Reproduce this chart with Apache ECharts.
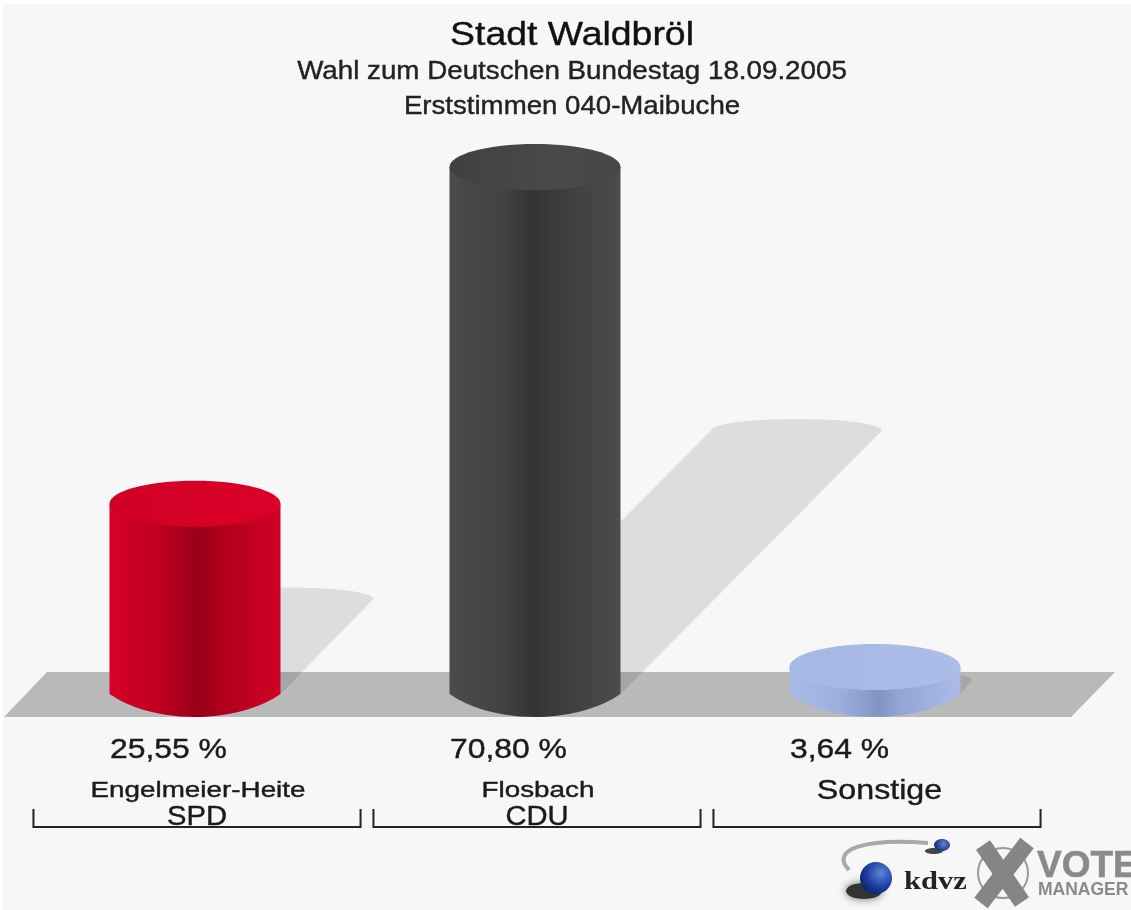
<!DOCTYPE html>
<html><head><meta charset="utf-8">
<style>html,body{margin:0;padding:0;background:#fff}#c{width:1131px;height:910px}</style>
<script src="https://cdn.jsdelivr.net/npm/echarts@6/dist/echarts.min.js"></script>
</head><body><div id="c"></div>
<script>
const titleText = 'Stadt Waldbröl';
const subtitleLines = ['Wahl zum Deutschen Bundestag 18.09.2005', 'Erststimmen 040-Maibuche'];
const candidates = ['Engelmeier-Heite', 'Flosbach', 'Sonstige'];
const parties = ['SPD', 'CDU', ''];
const percentLabels = ['25,55 %', '70,80 %', '3,64 %'];
const values = [25.55, 70.80, 3.64];
const sideStops = [
  [[0,'#d60028'],[0.3,'#bd0022'],[0.52,'#960017'],[0.62,'#ab001b'],[1,'#d20026']],
  [[0,'#4b4b4b'],[0.3,'#434343'],[0.5,'#333333'],[0.62,'#3c3c3c'],[1,'#4c4c4c']],
  [[0,'#a9bbe6'],[0.3,'#9cafdc'],[0.52,'#8194c4'],[0.65,'#93a6d4'],[1,'#aabce7']]
];
const capStops = [
  [[0,'#cf0026'],[1,'#dc0027']],
  [[0,'#404040'],[0.6,'#4a4a4a'],[1,'#474747']],
  [[0,'#a6b8e4'],[1,'#abbde8']]
];
const FONT = '"Liberation Sans", Arial, sans-serif';
const halfW = 85.5, ry = 23;
const grad = s => ({type:'linear',x:0,y:0,x2:1,y2:0,colorStops:s.map(([offset,color])=>({offset,color}))});

function shadowItem(params, api){
  const i = api.value(0), base = api.coord([i,0]), top = api.coord([i,api.value(1)]);
  const t = (base[1]-top[1])/2;
  const xl = base[0]-halfW, xr = base[0]+halfW, yb = base[1], ys = yb-t;
  return {type:'path', shape:{pathData:
    `M${xl} ${yb} L${xl+t-2} ${ys} A${halfW} ${ry/2} 0 0 1 ${xr+t-2} ${ys} L${xr} ${yb} Z`},
    style:{fill:'rgba(0,0,0,0.10)'}};
}
function cylItem(params, api){
  const i = api.value(0), base = api.coord([i,0]), top = api.coord([i,api.value(1)]);
  const xl = base[0]-halfW, xr = base[0]+halfW, yb = base[1], yt = top[1];
  return {type:'group', children:[
    {type:'path', shape:{pathData:
      `M${xl} ${yt} L${xr} ${yt} L${xr} ${yb} A110 62 0 0 1 ${xl} ${yb} Z`},
      style:{fill:grad(sideStops[i])}},
    {type:'ellipse', shape:{cx:base[0],cy:yt,rx:halfW,ry:ry}, style:{fill:grad(capStops[i])}}
  ]};
}
function labelItem(params, api){
  const i = api.value(0), base = api.coord([i,0]);
  const band = api.size([1,0])[0];
  const cx = base[0]+2, hw = band*0.481, yl = 827, yu = 809;
  const txt = (s,x,y,size,sx,align) => ({type:'text', x, y, scaleX:sx,
    style:{text:s, fill:'#1a1a1a', stroke:'#1a1a1a', lineWidth:0.4, font:`${size}px ${FONT}`, align:align||'center', verticalAlign:'middle'}});
  const kids = [
    txt(percentLabels[i], base[0]-85, 751, 27, 1.18, 'left'),
    {type:'polyline', shape:{points:[[cx-hw,yu],[cx-hw,yl],[cx+hw,yl],[cx+hw,yu]]},
      style:{stroke:'#222',fill:null,lineWidth:2}}
  ];
  if(parties[i]){
    kids.push(txt(candidates[i], base[0]+3, 791, 22, 1.265));
    kids.push(txt(parties[i], base[0]+2, 818, 27, 1.08));
  } else {
    kids.push(txt(candidates[i], base[0]+4.5, 791, 28, 1.15));
  }
  return {type:'group', children:kids};
}
const rows = values.map((v,i)=>[i,v]);
const head = (s,y,size,sx,c) => ({type:'text',z:2,x:572,y,scaleX:sx,
  style:{text:s,font:`${size}px ${FONT}`,fill:c,stroke:c,lineWidth:0.4,align:'center',verticalAlign:'middle'}});
const chart = echarts.init(document.getElementById('c'), null, {renderer:'canvas'});
chart.setOption({
  animation:false,
  backgroundColor:'#ffffff',
  grid:{left:25,width:1020,top:98.5,height:595.5},
  xAxis:{type:'category',data:candidates,show:false},
  yAxis:{type:'value',min:0,max:80,show:false},
  series:[
    {type:'custom',coordinateSystem:'cartesian2d',z:3,data:rows,renderItem:shadowItem,encode:{x:0,y:1},silent:true},
    {type:'custom',coordinateSystem:'cartesian2d',z:4,data:rows,renderItem:cylItem,encode:{x:0,y:1},silent:true},
    {type:'custom',coordinateSystem:'cartesian2d',z:5,data:rows,renderItem:labelItem,encode:{x:0,y:1},silent:true,clip:false}
  ],
  graphic:[
    {type:'rect',z:0,shape:{x:3,y:4,width:1128,height:906},style:{fill:'#f7f7f7'}},
    {type:'polygon',z:1,shape:{points:[[4,717],[47,672],[1115,672],[1071,717]]},style:{fill:'#b9b9b9'}},
    head(titleText,36,34,1.1,'#111'),
    head(subtitleLines[0],72.5,25,1.11,'#222'),
    head(subtitleLines[1],107,25,1.105,'#222'),
    // kdvz logo
    {type:'bezierCurve',z:1,shape:{x1:928,y1:843,cpx1:870,cpy1:838,cpx2:828,cpy2:848,x2:849,y2:870},style:{stroke:'#a8a8a8',fill:null,lineWidth:4}},
    {type:'ellipse',z:1,shape:{cx:934,cy:851,rx:9,ry:3},style:{fill:'#444'}},
    {type:'ellipse',z:2,shape:{cx:942,cy:845,rx:8,ry:6},style:{fill:{type:'radial',x:0.6,y:0.4,r:0.7,colorStops:[{offset:0,color:'#5f86d0'},{offset:1,color:'#15307c'}]}}},
    {type:'ellipse',z:1,shape:{cx:864,cy:891,rx:18,ry:8},style:{fill:'#333',shadowBlur:8,shadowColor:'#666'}},
    {type:'circle',z:2,shape:{cx:876,cy:878,r:16},style:{fill:{type:'radial',x:0.65,y:0.35,r:0.75,colorStops:[{offset:0,color:'#5f86d8'},{offset:0.6,color:'#1c3da0'},{offset:1,color:'#0e1f66'}]}}},
    {type:'text',z:2,x:904,y:883,scaleX:1.22,style:{text:'kdvz',font:'bold 25px "Liberation Serif", serif',fill:'#222',verticalAlign:'middle'}},
    // vote manager logo
    {type:'circle',z:1,shape:{cx:1003,cy:873,r:25},style:{fill:'none',stroke:'#999',lineWidth:2}},
    {type:'line',z:2,shape:{x1:983,y1:845,x2:1022,y2:902},style:{stroke:'#858585',lineWidth:17}},
    {type:'line',z:2,shape:{x1:1027,y1:843,x2:981,y2:903},style:{stroke:'#858585',lineWidth:17}},
    {type:'text',z:2,x:1037,y:867,style:{text:'VOTE',font:'bold 37px "Liberation Sans", sans-serif',fill:'#8a8a8a',stroke:'#8a8a8a',lineWidth:0.6,verticalAlign:'middle'}},
    {type:'text',z:2,x:1038,y:890,style:{text:'MANAGER',font:'bold 17.5px "Liberation Sans", sans-serif',fill:'#8a8a8a',verticalAlign:'middle'}}
  ]
});
</script></body></html>
